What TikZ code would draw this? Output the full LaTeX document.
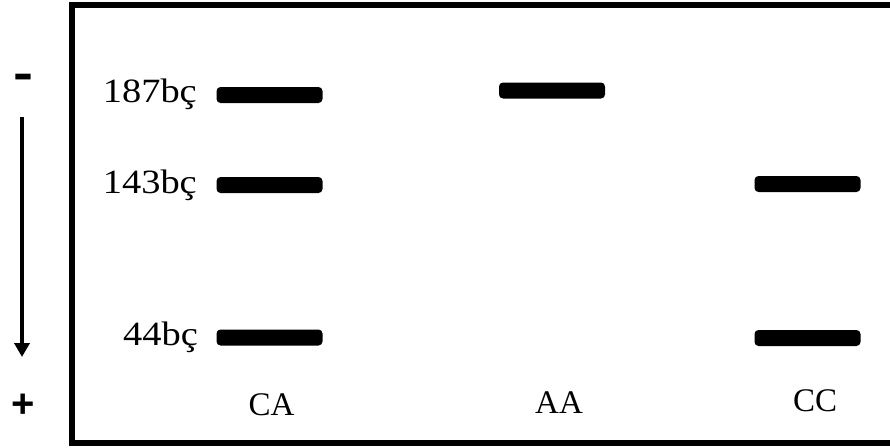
\documentclass[tikz,border=0pt]{standalone}
\usepackage{fontspec}
\setmainfont{Liberation Serif}
\newfontfamily\signfont{Liberation Sans}
\usetikzlibrary{arrows.meta}
\begin{document}
\begin{tikzpicture}[x=1pt,y=-1pt,
  band/.style={fill=black,rounded corners=4pt,minimum width=106pt,minimum height=16pt,inner sep=0pt},
  sizelabel/.style={anchor=base east,inner sep=0pt,font=\fontsize{34}{40}\selectfont},
  lanelabel/.style={anchor=base,inner sep=0pt,font=\fontsize{33}{40}\selectfont},
  signlabel/.style={inner sep=0pt,font=\signfont\bfseries\fontsize{40}{44}\selectfont}]
\useasboundingbox (0,0) rectangle (890,447);
\begin{scope}
\clip (0,0) rectangle (890,447);
\draw[line width=6pt] (72,5) rectangle (900,443);
\end{scope}
% bands
\node[band] (ca187) at (269.5,95) {};
\node[band] (ca143) at (269.5,185) {};
\node[band] (ca44) at (269.5,337.5) {};
\node[band] (aa187) at (552,90.5) {};
\node[band] (cc143) at (807.5,184) {};
\node[band] (cc44) at (807.5,338) {};
% size labels
\node[sizelabel] (l187) at (197,102) {\scalebox{1.13}[1]{187bç}};
\node[sizelabel] (l143) at (197,193) {\scalebox{1.13}[1]{143bç}};
\node[sizelabel] (l44) at (198,345) {\scalebox{1.13}[1]{44bç}};
% lane labels
\node[lanelabel] (lca) at (271.5,415) {CA};
\node[lanelabel] (laa) at (559,413) {AA};
\node[lanelabel] (lcc) at (815,411) {CC};
% polarity
\node[signlabel] (minus) at (23,82) {\scalebox{1.5}[1.2]{-}};
\node[signlabel] (plus) at (23,406) {+};
\coordinate (atop) at (22,117);
\coordinate (abot) at (22,357);
\draw[line width=4.5pt,-{Triangle[width=15pt,length=14pt]}] (atop) -- (abot);
\end{tikzpicture}
\end{document}
